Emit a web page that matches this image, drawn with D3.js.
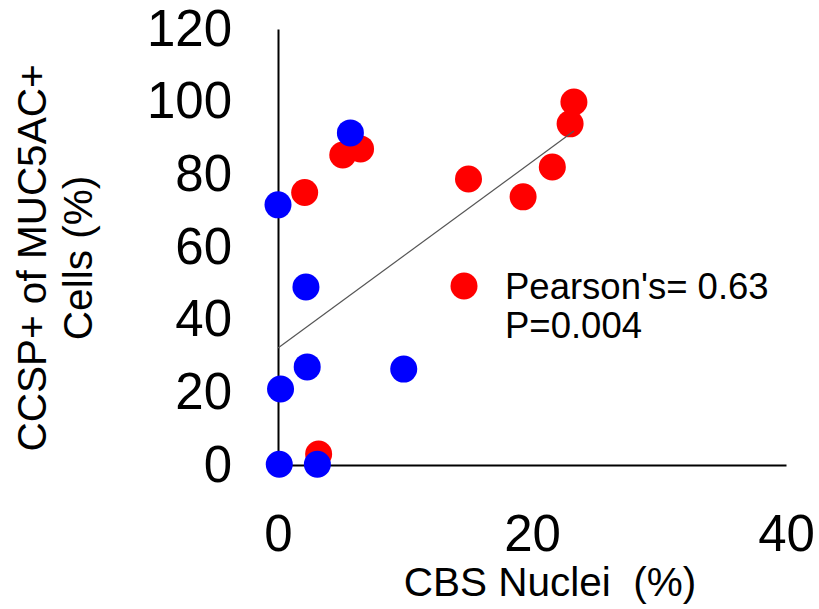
<!DOCTYPE html>
<meta charset="utf-8">
<style>
    body {
        margin: 0;
        background: #fff;
        font-family: "Liberation Sans", Arial, sans-serif;
    }
    .axis path.domain {
        stroke: #000;
        stroke-width: 2;
    }
    .axis text {
        fill: #000;
        font-family: "Liberation Sans", Arial, sans-serif;
        font-size: 51px;
    }
    .title {
        font-size: 40.5px;
        fill: #000;
        white-space: pre;
    }
    .note {
        font-size: 36.5px;
        fill: #000;
    }
    path.trend {
        fill: none;
        stroke: #555;
        stroke-width: 1.2;
    }
</style>
<body>
<script src="https://cdn.jsdelivr.net/npm/d3@7"></script>
<script>
    // red group
    var redX = [2.1, 5.1, 6.5, 15.0, 19.3, 21.6, 23.0, 23.3, 3.2];
    var redY = [75.0, 85.3, 87.0, 78.7, 73.8, 82.0, 93.9, 99.9, 3.0];

    // blue group
    var blueX = [5.7, 0.0, 2.2, 2.3, 9.9, 0.2, 0.1, 3.1];
    var blueY = [91.4, 71.6, 49.0, 27.0, 26.4, 20.9, 0.2, 0.2];

    // fitted line end points
    var trendX = [0, 23.3];
    var trendY = [32.2, 91.9];

    var xTicks = [0, 20, 40];
    var yTicks = [0, 20, 40, 60, 80, 100, 120];

    var width = 819, height = 609;
    var margin = {top: 29, right: 35, bottom: 144, left: 278};

    var x = d3.scaleLinear().domain([0, 40]).range([margin.left, width - margin.right + 2]);
    var y = d3.scaleLinear().domain([0, 120]).range([height - margin.bottom, margin.top]);

    var svg = d3.select("body").append("svg")
            .attr("width", width)
            .attr("height", height);

    svg.append("g")
            .attr("class", "x axis")
            .attr("transform", "translate(0," + y(0) + ")")
            .call(d3.axisBottom(x).tickValues(xTicks).tickSize(0).tickPadding(50))
        .selectAll("text")
            .attr("dy", "0.71em");

    svg.append("g")
            .attr("class", "y axis")
            .attr("transform", "translate(" + x(0) + ",0)")
            .call(d3.axisLeft(y).tickValues(yTicks).tickSize(0).tickPadding(46));

    svg.append("text")
            .attr("class", "title")
            .attr("x", 550)
            .attr("y", 596)
            .attr("text-anchor", "middle")
            .text("CBS Nuclei  (%)");

    var yTitle = svg.append("text")
            .attr("class", "title")
            .attr("transform", "translate(46,258) rotate(-90)")
            .attr("text-anchor", "middle");
    yTitle.append("tspan").attr("x", 0).attr("dy", 0).text("CCSP+ of MUC5AC+");
    yTitle.append("tspan").attr("x", 0).attr("dy", 46).text("Cells (%)");

    var r = 13.5;

    svg.append("g").selectAll("circle")
            .data(d3.range(redX.length))
        .enter().append("circle")
            .attr("cx", function(i) { return x(redX[i]); })
            .attr("cy", function(i) { return y(redY[i]); })
            .attr("r", r)
            .attr("fill", "#ff0000");

    svg.append("path")
            .attr("class", "trend")
            .attr("d", d3.line()(trendX.map(function(d, i) { return [x(d), y(trendY[i])]; })));

    svg.append("g").selectAll("circle")
            .data(d3.range(blueX.length))
        .enter().append("circle")
            .attr("cx", function(i) { return x(blueX[i]); })
            .attr("cy", function(i) { return y(blueY[i]); })
            .attr("r", r)
            .attr("fill", "#0000ff");

    // legend marker and stats
    svg.append("circle")
            .attr("cx", 464)
            .attr("cy", 286)
            .attr("r", r)
            .attr("fill", "#ff0000");

    svg.append("text")
            .attr("class", "note")
            .attr("x", 505)
            .attr("y", 299)
            .text("Pearson's= 0.63");

    svg.append("text")
            .attr("class", "note")
            .attr("x", 505)
            .attr("y", 338)
            .text("P=0.004");
</script>
</body>
